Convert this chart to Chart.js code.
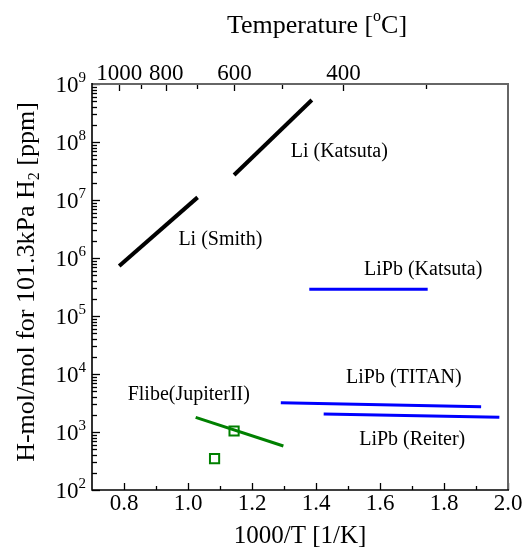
<!DOCTYPE html>
<html><head><meta charset="utf-8">
<script src="https://cdn.jsdelivr.net/npm/chart.js@4/dist/chart.umd.min.js"></script>
<style>html,body{margin:0;padding:0;background:#fff;overflow:hidden}canvas{display:block}</style>
</head><body>
<canvas id="c" width="530" height="549"></canvas>
<script>
// ---- axis ranges & ticks ----
const xRange = [0.7, 2.0];
const yRange = [1e2, 1e9];
const xTickValues = [0.8, 1.0, 1.2, 1.4, 1.6, 1.8, 2.0];
const xMinorValues = [0.9, 1.1, 1.3, 1.5, 1.7, 1.9];
const topTempLabels = [1000, 800, 600, 400];
const topTempMinor = [900, 700, 500, 300];
const yDecadeExps = [2, 3, 4, 5, 6, 7, 8, 9];
const yMinorMults = [2, 3, 4, 5, 6, 7, 8, 9];

// ---- series (1000/T, ppm) ----
const liKatsutaX = [1.144, 1.387];   const liKatsutaY = [2.7e7, 5.3e8];
const liSmithX = [0.785, 1.030];     const liSmithY = [7.3e5, 1.11e7];
const lipbKatsutaX = [1.379, 1.749]; const lipbKatsutaY = [2.9e5, 2.9e5];
const lipbTitanX = [1.290, 1.916];   const lipbTitanY = [3.2e3, 2.73e3];
const lipbReiterX = [1.424, 1.973];  const lipbReiterY = [2.04e3, 1.79e3];
const flibeX = [1.024, 1.298];       const flibeY = [1.79e3, 5.74e2];
const flibePtsX = [1.144, 1.083];    const flibePtsY = [1.04e3, 3.47e2];

// ---- in-plot labels ----
const noteText = ['Li (Katsuta)', 'Li (Smith)', 'LiPb (Katsuta)', 'LiPb (TITAN)', 'LiPb (Reiter)', 'Flibe(JupiterII)'];
const noteX = [1.321, 0.970, 1.550, 1.494, 1.535, 0.8115];
const noteY = [6.81e7, 2.04e6, 6.38e5, 8.77e3, 7.48e2, 4.35e3];

const SERIF = '"Liberation Serif", "Times New Roman", serif';
const GREEN = 'rgb(0,128,0)';
const BLUE = 'rgb(0,0,255)';

function pts(xs, ys) { return xs.map((x, i) => ({x: x, y: ys[i]})); }
function lineDs(xs, ys, color, w) {
  return {data: pts(xs, ys), showLine: true, borderColor: color, borderWidth: w,
          pointRadius: 0, borderCapStyle: 'butt', fill: false};
}

const decor = {
  id: 'decor',
  afterDraw(chart) {
    const ctx = chart.ctx, a = chart.chartArea;
    const sx = chart.scales.x, sy = chart.scales.y;
    ctx.save();
    // ticks (inward)
    ctx.strokeStyle = '#000'; ctx.lineWidth = 1.3;
    const vt = (px, len, top) => { ctx.beginPath();
      if (top) { ctx.moveTo(px, a.top); ctx.lineTo(px, a.top + len); }
      else { ctx.moveTo(px, a.bottom); ctx.lineTo(px, a.bottom - len); }
      ctx.stroke(); };
    xTickValues.forEach(v => vt(Math.round(sx.getPixelForValue(v)) + 0.5, 7, false));
    xMinorValues.forEach(v => vt(Math.round(sx.getPixelForValue(v)) + 0.5, 4, false));
    topTempLabels.forEach(t => vt(Math.round(sx.getPixelForValue(1000 / (t + 273.15))) + 0.5, 7, true));
    topTempMinor.forEach(t => vt(Math.round(sx.getPixelForValue(1000 / (t + 273.15))) + 0.5, 5, true));
    const ht = (py, len) => { ctx.beginPath(); ctx.moveTo(a.left, py); ctx.lineTo(a.left + len, py); ctx.stroke(); };
    yDecadeExps.forEach(e => {
      ht(Math.round(sy.getPixelForValue(Math.pow(10, e))) + 0.5, 8);
      if (e < 9) yMinorMults.forEach(m => ht(Math.round(sy.getPixelForValue(m * Math.pow(10, e))) + 0.5, 5));
    });
    // frame
    ctx.strokeStyle = '#666'; ctx.lineWidth = 2;
    ctx.beginPath(); ctx.moveTo(a.left, a.top); ctx.lineTo(a.right, a.top); ctx.lineTo(a.right, a.bottom); ctx.stroke();
    ctx.strokeStyle = '#000'; ctx.lineWidth = 1.6;
    ctx.beginPath(); ctx.moveTo(a.left, a.top - 1); ctx.lineTo(a.left, a.bottom); ctx.lineTo(a.right + 1, a.bottom); ctx.stroke();

    // y tick labels 10^n
    ctx.fillStyle = '#000';
    yDecadeExps.forEach(e => {
      const py = sy.getPixelForValue(Math.pow(10, e));
      ctx.font = '23px ' + SERIF; ctx.textAlign = 'right'; ctx.textBaseline = 'middle';
      ctx.fillText('10', 78.5, py + 1.5);
      ctx.font = '15px ' + SERIF; ctx.textAlign = 'left';
      ctx.fillText(String(e), 78.5, py - 6);
    });

    // y axis title (rotated) with subscript
    ctx.save();
    ctx.translate(27, 282); ctx.rotate(-Math.PI / 2);
    const p1 = 'H-mol/mol for 101.3kPa H', p2 = '2', p3 = ' [ppm]';
    ctx.font = '26px ' + SERIF; const w1 = ctx.measureText(p1).width, w3 = ctx.measureText(p3).width;
    ctx.font = '16px ' + SERIF; const w2 = ctx.measureText(p2).width;
    let x0 = -(w1 + w2 + w3) / 2;
    ctx.textAlign = 'left'; ctx.textBaseline = 'middle';
    ctx.font = '26px ' + SERIF; ctx.fillText(p1, x0, 0);
    ctx.font = '16px ' + SERIF; ctx.fillText(p2, x0 + w1, 8);
    ctx.font = '26px ' + SERIF; ctx.fillText(p3, x0 + w1 + w2, 0);
    ctx.restore();

    // top title with superscript o
    const t1 = 'Temperature [', t2 = 'o', t3 = 'C]';
    ctx.font = '26px ' + SERIF; const u1 = ctx.measureText(t1).width, u3 = ctx.measureText(t3).width;
    ctx.font = '16px ' + SERIF; const u2 = ctx.measureText(t2).width;
    let tx = 317 - (u1 + u2 + u3) / 2;
    ctx.textAlign = 'left'; ctx.textBaseline = 'middle';
    ctx.font = '26px ' + SERIF; ctx.fillText(t1, tx, 26);
    ctx.font = '16px ' + SERIF; ctx.fillText(t2, tx + u1, 17);
    ctx.font = '26px ' + SERIF; ctx.fillText(t3, tx + u1 + u2, 26);

    // in-plot notes
    ctx.font = '20px ' + SERIF; ctx.textAlign = 'left'; ctx.textBaseline = 'middle';
    noteText.forEach((s, i) => ctx.fillText(s, sx.getPixelForValue(noteX[i]), sy.getPixelForValue(noteY[i])));
    ctx.restore();
  }
};

new Chart(document.getElementById('c'), {
  type: 'scatter',
  data: {
    datasets: [
      lineDs(liKatsutaX, liKatsutaY, '#000', 4),
      lineDs(liSmithX, liSmithY, '#000', 4),
      lineDs(lipbKatsutaX, lipbKatsutaY, BLUE, 3),
      lineDs(lipbTitanX, lipbTitanY, BLUE, 3),
      lineDs(lipbReiterX, lipbReiterY, BLUE, 3),
      lineDs(flibeX, flibeY, GREEN, 3),
      {data: pts(flibePtsX, flibePtsY), showLine: false, pointStyle: 'rect', pointRadius: 6.5,
       borderColor: GREEN, borderWidth: 2, backgroundColor: 'rgba(0,0,0,0)'}
    ]
  },
  options: {
    responsive: false, animation: false, devicePixelRatio: 1,
    layout: {padding: {left: 0, right: 22, top: 0, bottom: 0}},
    plugins: {legend: {display: false}, tooltip: {enabled: false}},
    scales: {
      x: {
        type: 'linear', position: 'bottom', min: xRange[0], max: xRange[1],
        grid: {display: false, drawTicks: false}, border: {display: false},
        afterBuildTicks: s => { s.ticks = xTickValues.map(v => ({value: v})); },
        afterFit: s => { s.height = 59; },
        ticks: {color: '#000', font: {family: SERIF, size: 23}, padding: 0, maxRotation: 0, autoSkip: false,
                callback: v => Number(v).toFixed(1)},
        title: {display: true, text: '1000/T [1/K]', color: '#000',
                font: {family: SERIF, size: 25, lineHeight: 1}, padding: {top: 0, bottom: 0}}
      },
      x2: {
        type: 'linear', position: 'top', min: xRange[0], max: xRange[1],
        grid: {display: false, drawTicks: false}, border: {display: false},
        afterBuildTicks: s => { s.ticks = topTempLabels.map(t => ({value: 1000 / (t + 273.15)})); },
        afterFit: s => { s.height = 84; },
        ticks: {color: '#000', font: {family: SERIF, size: 23}, padding: -4, maxRotation: 0, autoSkip: false,
                callback: (v, i) => String(topTempLabels[i])}
      },
      y: {
        type: 'logarithmic', position: 'left', min: yRange[0], max: yRange[1],
        grid: {display: false, drawTicks: false}, border: {display: false},
        afterBuildTicks: s => { s.ticks = yDecadeExps.map(e => ({value: Math.pow(10, e)})); },
        afterFit: s => { s.width = 92; },
        ticks: {display: false}
      }
    }
  },
  plugins: [decor]
});
</script>
</body></html>
